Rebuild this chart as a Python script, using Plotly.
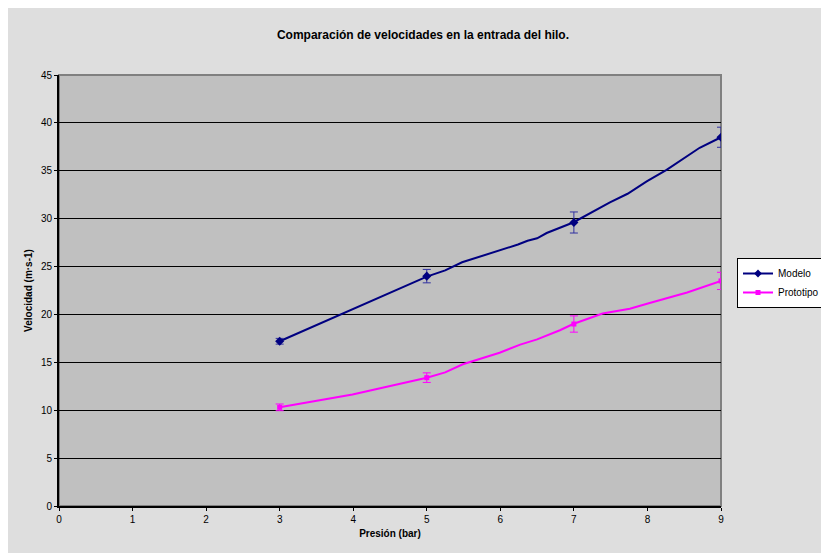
import plotly.graph_objects as go

# Measured points (markers + error bars)
presion = [3, 5, 7, 9]
modelo = [17.2, 24.0, 29.6, 38.5]
modelo_err = [0.3, 0.7, 1.1, 1.05]
prototipo = [10.3, 13.4, 19.0, 23.5]
prototipo_err = [0.35, 0.5, 0.85, 0.9]

# Traced curve shapes
modelo_curve_x = [3.0, 5.0, 5.25, 5.48, 6.24, 6.37, 6.50, 6.63, 6.99, 7.22, 7.38, 7.49, 7.73, 7.99, 8.26, 8.71, 9.0]
modelo_curve_y = [17.2, 23.95, 24.6, 25.45, 27.3, 27.7, 27.95, 28.5, 29.6, 30.55, 31.2, 31.7, 32.6, 33.9, 35.1, 37.4, 38.5]
proto_curve_x = [3.0, 3.77, 3.99, 5.0, 5.25, 5.49, 5.99, 6.27, 6.5, 6.81, 6.99, 7.39, 7.76, 8.03, 8.54, 9.0]
proto_curve_y = [10.3, 11.3, 11.65, 13.4, 13.95, 14.8, 16.0, 16.85, 17.4, 18.35, 19.0, 20.1, 20.6, 21.2, 22.3, 23.5]

navy = "#000080"
magenta = "#FF00FF"
font = "Liberation Sans, Arial, sans-serif"

fig = go.Figure()
fig.add_trace(go.Scatter(x=modelo_curve_x, y=modelo_curve_y, mode="lines",
                         line=dict(color=navy, width=2), showlegend=False, hoverinfo="skip"))
fig.add_trace(go.Scatter(x=proto_curve_x, y=proto_curve_y, mode="lines",
                         line=dict(color=magenta, width=2), showlegend=False, hoverinfo="skip"))
fig.add_trace(go.Scatter(x=presion, y=modelo, mode="markers", showlegend=False,
                         marker=dict(symbol="diamond", size=7, color=navy),
                         error_y=dict(type="data", array=modelo_err, color="#3030a0", thickness=1, width=4)))
fig.add_trace(go.Scatter(x=presion, y=prototipo, mode="markers", showlegend=False,
                         marker=dict(symbol="square", size=5, color=magenta),
                         error_y=dict(type="data", array=prototipo_err, color=magenta, thickness=1, width=4)))
# legend entries
fig.add_trace(go.Scatter(x=[None], y=[None], mode="lines+markers", name="Modelo",
                         line=dict(color=navy, width=2), marker=dict(symbol="diamond", size=6, color=navy)))
fig.add_trace(go.Scatter(x=[None], y=[None], mode="lines+markers", name="Prototipo",
                         line=dict(color=magenta, width=2), marker=dict(symbol="square", size=5, color=magenta)))

# The page places the figure 8px from the top-left corner
W, H = 821, 545
L, R, T, B = 51, 108, 67, 47
pw, ph = W - L - R, H - T - B

def px_x(p):
    return (p - L) / pw

def px_y(p):
    return (H - B - p) / ph

shapes = [
    # plot-area border
    dict(type="rect", xref="paper", yref="paper", x0=0, x1=1, y0=0, y1=1,
         line=dict(color="#808080", width=2), fillcolor="rgba(0,0,0,0)", layer="below"),
]

fig.update_layout(
    width=W, height=H,
    margin=dict(l=L, r=R, t=T, b=B, autoexpand=False),
    paper_bgcolor="#DEDEDE",
    plot_bgcolor="#C0C0C0",
    font=dict(family=font, size=10, color="black"),
    title=dict(text="<b>Comparación de velocidades en la entrada del hilo.</b>",
               x=415 / W, xref="container", xanchor="center",
               yref="container", y=1 - 27 / H, yanchor="middle",
               font=dict(family=font, size=12, color="black")),
    xaxis=dict(range=[0, 9], tickvals=list(range(10)), showgrid=False, zeroline=False,
               showline=True, linecolor="black", linewidth=2, ticks="outside", ticklen=3,
               tickcolor="black", tickwidth=1, tickfont=dict(size=10),
               title=dict(text="<b>Presión (bar)</b>", font=dict(size=10), standoff=6)),
    yaxis=dict(range=[0, 45], dtick=5, showgrid=True, gridcolor="black", gridwidth=1,
               zeroline=False, showline=True, linecolor="black", linewidth=2,
               ticks="outside", ticklen=3, tickcolor="black", tickwidth=1, tickfont=dict(size=10),
               title=dict(text="<b>Velocidad (m·s-1)</b>", font=dict(size=10), standoff=6)),
    legend=dict(x=px_x(729), y=px_y(250), xanchor="left", yanchor="top",
                bgcolor="white", bordercolor="black", borderwidth=1,
                font=dict(size=10), tracegroupgap=0, itemwidth=30),
    shapes=shapes,
)

fig.write_html("out.html")
